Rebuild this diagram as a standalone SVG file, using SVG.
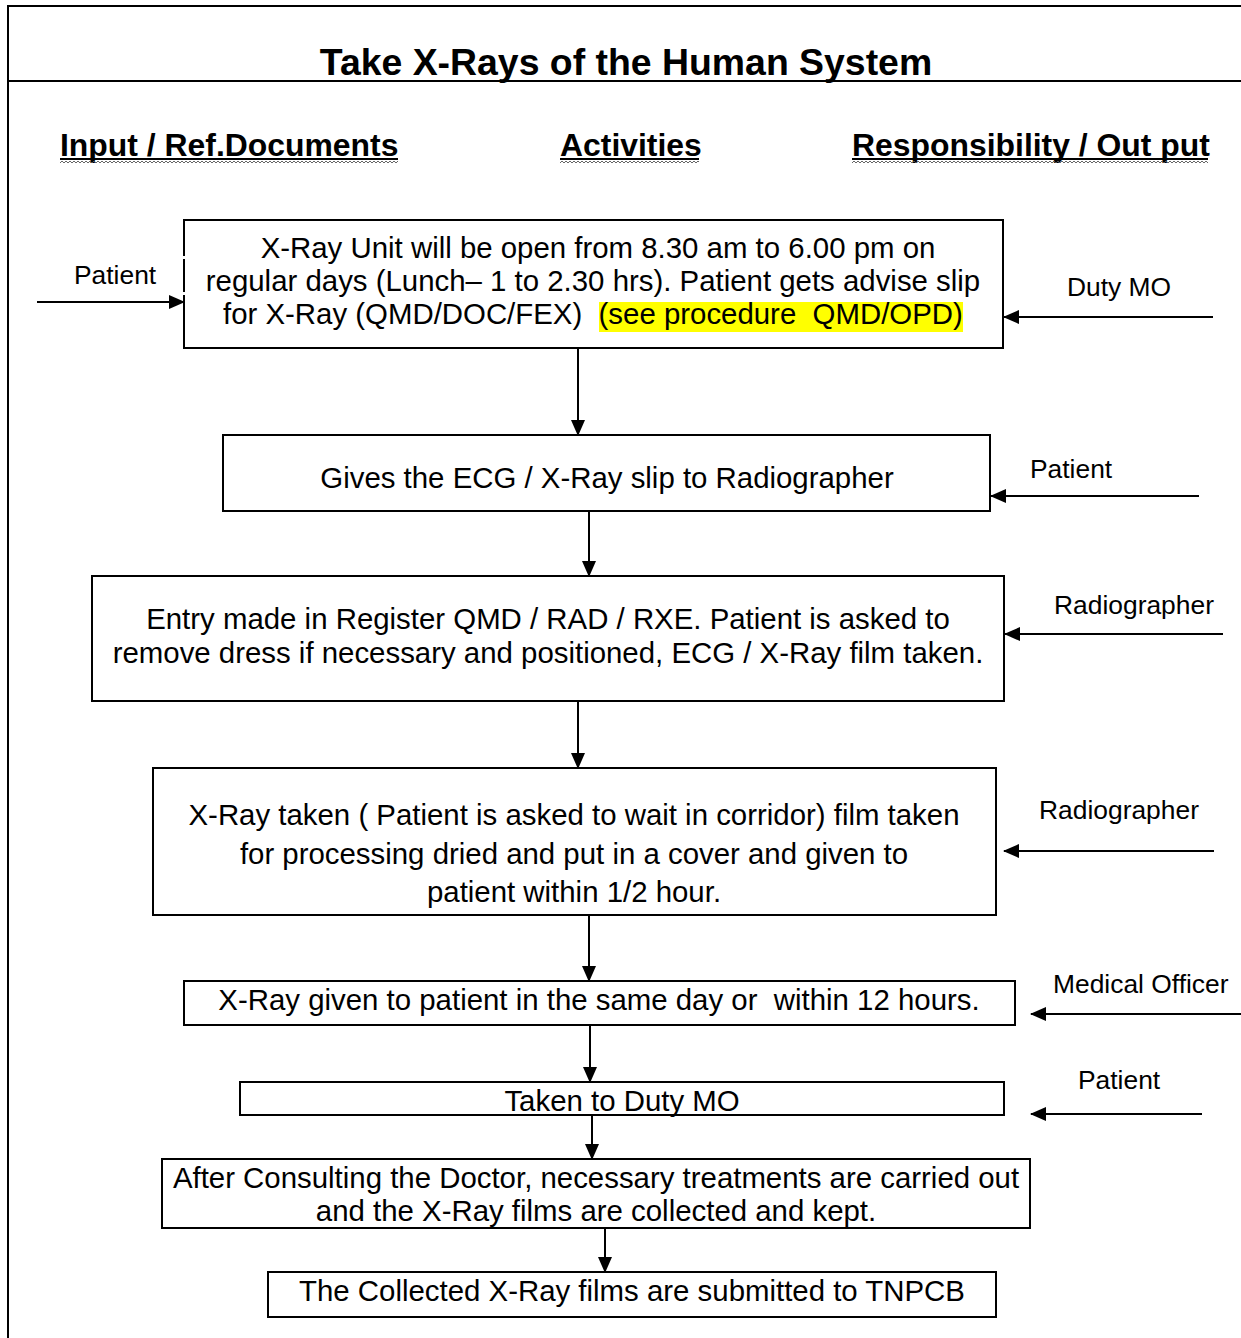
<svg xmlns="http://www.w3.org/2000/svg" width="1241" height="1338" viewBox="0 0 1241 1338">
<defs>
<marker id="ah" markerUnits="userSpaceOnUse" markerWidth="16" markerHeight="14" refX="15" refY="7" orient="auto">
<path d="M0,0 L16,7 L0,14 Z" fill="#000"/>
</marker>
<pattern id="wave" width="4" height="4" patternUnits="userSpaceOnUse">
<path d="M0,3 L2,1 L4,3" stroke="#555" fill="none" stroke-width="0.9"/>
</pattern>
<style>
.box{fill:#fff;stroke:#000;stroke-width:2}
.t{font-family:"Liberation Sans",Arial,sans-serif;font-size:29.4px;fill:#000}
.lbl{font-family:"Liberation Sans",Arial,sans-serif;font-size:26.4px;fill:#000}
.hd{font-family:"Liberation Sans",Arial,sans-serif;font-size:31.9px;font-weight:bold;fill:#000}
.title{font-family:"Liberation Sans",Arial,sans-serif;font-size:37.4px;font-weight:bold;fill:#000}
.c{stroke:#000;stroke-width:2;fill:none;marker-end:url(#ah)}
.m{text-anchor:middle}
</style>
</defs>
<rect width="1241" height="1338" fill="#fff"/>
<g id="frame" stroke="#000" stroke-width="2" fill="none">
<path d="M8,1338 L8,6 L1241,6"/>
<path d="M8,81 L1241,81"/>
</g>
<g id="title">
<text class="title m" x="626" y="75">Take X-Rays of the Human System</text>
</g>
<g id="headers">
<text class="hd" x="60" y="156">Input / Ref.Documents</text>
<line x1="60" y1="159" x2="398" y2="159" stroke="#000" stroke-width="2"/>
<rect x="60" y="160" width="338" height="4" fill="url(#wave)"/>
<text class="hd" x="560" y="156">Activities</text>
<line x1="560" y1="159" x2="699" y2="159" stroke="#000" stroke-width="2"/>
<rect x="560" y="160" width="139" height="4" fill="url(#wave)"/>
<text class="hd" x="852" y="156">Responsibility / Out put</text>
<line x1="852" y1="159" x2="1208" y2="159" stroke="#000" stroke-width="2"/>
<rect x="852" y="160" width="356" height="4" fill="url(#wave)"/>
</g>
<g id="node1">
<rect class="box" x="184" y="220" width="819" height="128"/>
<rect x="180" y="256" width="8" height="3" fill="#fff"/>
<rect x="180" y="292" width="8" height="3" fill="#fff"/>
<rect x="599" y="302" width="364" height="30" fill="#ffff00"/>
<text class="t m" x="598" y="258">X-Ray Unit will be open from 8.30 am to 6.00 pm on</text>
<text class="t m" x="593" y="291">regular days (Lunch– 1 to 2.30 hrs). Patient gets advise slip</text>
<text class="t" x="223" y="324" xml:space="preserve">for X-Ray (QMD/DOC/FEX)  (see procedure  QMD/OPD)</text>
</g>
<g id="node2">
<rect class="box" x="223" y="435" width="767" height="76"/>
<text class="t m" x="607" y="488">Gives the ECG / X-Ray slip to Radiographer</text>
</g>
<g id="node3">
<rect class="box" x="92" y="576" width="912" height="125"/>
<text class="t m" x="548" y="629">Entry made in Register QMD / RAD / RXE. Patient is asked to</text>
<text class="t m" x="548" y="663">remove dress if necessary and positioned, ECG / X-Ray film taken.</text>
</g>
<g id="node4">
<rect class="box" x="153" y="768" width="843" height="147"/>
<text class="t m" x="574" y="825">X-Ray taken ( Patient is asked to wait in corridor) film taken</text>
<text class="t m" x="574" y="864">for processing dried and put in a cover and given to</text>
<text class="t m" x="574" y="902">patient within 1/2 hour.</text>
</g>
<g id="node5">
<rect class="box" x="184" y="981" width="831" height="44"/>
<text class="t m" x="599" y="1010" xml:space="preserve">X-Ray given to patient in the same day or  within 12 hours.</text>
</g>
<g id="node6">
<rect class="box" x="240" y="1082" width="764" height="33"/>
<text class="t m" x="622" y="1111">Taken to Duty MO</text>
</g>
<g id="node7">
<rect class="box" x="162" y="1159" width="868" height="69"/>
<text class="t m" x="596" y="1188">After Consulting the Doctor, necessary treatments are carried out</text>
<text class="t m" x="596" y="1221">and the X-Ray films are collected and kept.</text>
</g>
<g id="node8">
<rect class="box" x="268" y="1272" width="728" height="45"/>
<text class="t m" x="632" y="1301">The Collected X-Ray films are submitted to TNPCB</text>
</g>
<g id="labels">
<text class="lbl" x="74" y="284">Patient</text>
<text class="lbl" x="1067" y="296">Duty MO</text>
<text class="lbl" x="1030" y="478">Patient</text>
<text class="lbl" x="1054" y="614">Radiographer</text>
<text class="lbl" x="1039" y="819">Radiographer</text>
<text class="lbl" x="1053" y="993">Medical Officer</text>
<text class="lbl" x="1078" y="1089">Patient</text>
</g>
<g id="connectors">
<line class="c" x1="37" y1="302" x2="184" y2="302"/>
<line class="c" x1="1213" y1="317" x2="1004" y2="317"/>
<line class="c" x1="578" y1="348" x2="578" y2="435"/>
<line class="c" x1="1199" y1="496" x2="991" y2="496"/>
<line class="c" x1="589" y1="511" x2="589" y2="576"/>
<line class="c" x1="1223" y1="634" x2="1005" y2="634"/>
<line class="c" x1="578" y1="701" x2="578" y2="768"/>
<line class="c" x1="1214" y1="851" x2="1004" y2="851"/>
<line class="c" x1="589" y1="915" x2="589" y2="981"/>
<line class="c" x1="1241" y1="1014" x2="1031" y2="1014"/>
<line class="c" x1="590" y1="1025" x2="590" y2="1082"/>
<line class="c" x1="1202" y1="1114" x2="1031" y2="1114"/>
<line class="c" x1="592" y1="1115" x2="592" y2="1159"/>
<line class="c" x1="605" y1="1228" x2="605" y2="1272"/>
</g>
</svg>
